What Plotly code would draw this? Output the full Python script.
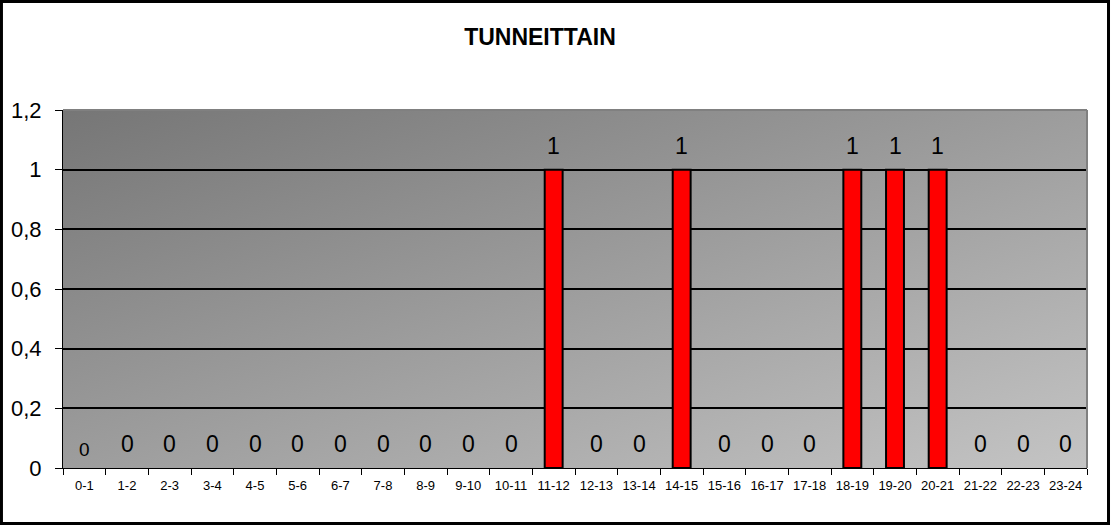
import base64
import plotly.graph_objects as go

hours = ['0-1', '1-2', '2-3', '3-4', '4-5', '5-6', '6-7', '7-8', '8-9', '9-10',
         '10-11', '11-12', '12-13', '13-14', '14-15', '15-16', '16-17', '17-18',
         '18-19', '19-20', '20-21', '21-22', '22-23', '23-24']
counts = [0, 0, 0, 0, 0, 0, 0, 0, 0, 0,
          0, 1, 0, 0, 1, 0, 0, 0,
          1, 1, 1, 0, 0, 0]
y_ticks = [0, 0.2, 0.4, 0.6, 0.8, 1, 1.2]

FONT = 'Arial, Liberation Sans, sans-serif'

# plot area background: diagonal grey gradient (svg image under the grid)
svg = (
    '<svg xmlns="http://www.w3.org/2000/svg" width="1024" height="358" '
    'viewBox="0 0 1024 358" preserveAspectRatio="none">'
    '<defs><linearGradient id="g" x1="0" y1="0" x2="1" y2="1">'
    '<stop offset="0" stop-color="#767676"/>'
    '<stop offset="1" stop-color="#c4c4c4"/>'
    '</linearGradient></defs>'
    '<rect width="1024" height="358" fill="url(#g)"/></svg>'
)
bg_src = 'data:image/svg+xml;base64,' + base64.b64encode(svg.encode()).decode()

fig = go.Figure()

# no outline on empty hours (excel draws nothing there)
outline = [2 if c else 0 for c in counts]
fig.add_trace(go.Bar(
    x=hours, y=counts,
    marker={'color': '#ff0000', 'line': {'color': 'black', 'width': outline}},
    hoverinfo='x+y',
))

# data labels
for i, (h, c) in enumerate(zip(hours, counts)):
    first = i == 0
    fig.add_annotation(
        x=h, y=c, text=str(c), showarrow=False,
        yshift=19 if first else 24,
        font={'family': FONT, 'size': 19 if first else 23, 'color': 'black'},
    )

# grey frame on top and right of the plot area
fig.add_shape(type='line', xref='paper', yref='paper', x0=0, x1=1, y0=1, y1=1,
              line={'color': '#808080', 'width': 2}, layer='above')
fig.add_shape(type='line', xref='paper', yref='paper', x0=1, x1=1, y0=0, y1=1,
              line={'color': '#808080', 'width': 2}, layer='above')
# outer chart border
fig.add_shape(type='rect', xref='paper', yref='paper',
              x0=-0.0601, x1=1.0210, y0=-0.1550, y1=1.3031,
              line={'color': 'black', 'width': 3})

fig.add_layout_image(
    source=bg_src, xref='paper', yref='paper', x=0, y=1, sizex=1, sizey=1,
    xanchor='left', yanchor='top', sizing='stretch', layer='below',
)

fig.update_layout(
    width=1111, height=526,
    margin={'l': 63, 'r': 24, 't': 110, 'b': 58},
    paper_bgcolor='white',
    plot_bgcolor='rgba(0,0,0,0)',
    separators=', ',
    showlegend=False,
    bargap=0.58,
    title={
        'text': '<b>TUNNEITTAIN</b>',
        'x': 0.486, 'xanchor': 'center',
        'y': 1 - 37 / 526, 'yanchor': 'middle',
        'font': {'family': FONT, 'size': 23, 'color': 'black'},
    },
    font={'family': FONT, 'color': 'black'},
)

fig.update_xaxes(
    type='category', range=[-0.5, 23.5],
    showgrid=False, showline=True, linecolor='black', linewidth=1,
    ticks='outside', tickson='boundaries', ticklen=6, tickcolor='black',
    ticklabelstandoff=5,
    tickfont={'family': FONT, 'size': 13, 'color': 'black'},
    fixedrange=True,
)
fig.update_yaxes(
    range=[0, 1.2], tickvals=y_ticks,
    showgrid=True, gridcolor='black', gridwidth=2,
    zeroline=False, showline=True, linecolor='black', linewidth=1,
    ticks='outside', ticklen=7, tickcolor='black', ticklabelstandoff=9,
    tickfont={'family': FONT, 'size': 22, 'color': 'black'},
    fixedrange=True,
)

fig.write_html(
    'out.html',
    config={'displayModeBar': False},
    post_script="document.body.style.margin='0';document.body.style.overflow='hidden';",
)
